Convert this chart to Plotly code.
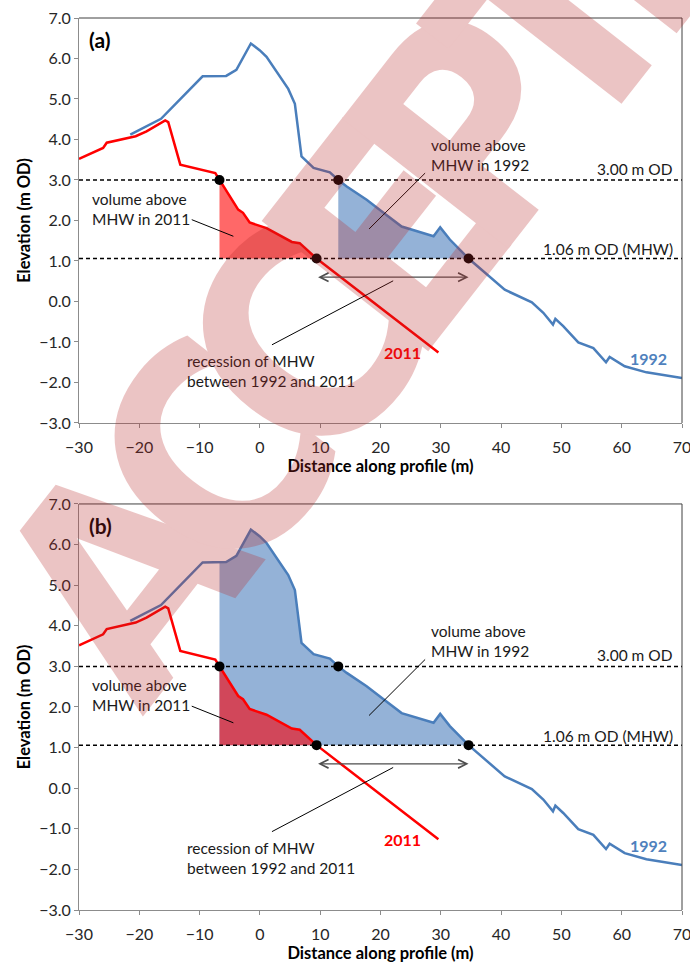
import numpy as np
import plotly.graph_objects as go

# ---------------- data ----------------
X_1992 = [-21.5, -16.4, -9.5, -5.6, -3.9, -1.5, 0.0, 1.1, 4.7, 5.8, 6.9, 8.9, 11.6, 13.0,
          14.4, 17.7, 20.5, 23.5, 28.8, 29.9, 31.5, 34.6, 40.6, 45.1, 47.0, 48.6, 49.0,
          50.3, 52.8, 55.3, 57.4, 58.0, 60.5, 64.1, 70.0]
Y_1992 = [4.12, 4.51, 5.56, 5.57, 5.72, 6.37, 6.20, 6.04, 5.25, 4.88, 3.58, 3.30, 3.19, 3.00,
          2.84, 2.51, 2.19, 1.85, 1.61, 1.83, 1.53, 1.06, 0.29, -0.02, -0.28, -0.57, -0.43,
          -0.61, -1.01, -1.15, -1.50, -1.37, -1.60, -1.75, -1.89]

X_2011 = [-30.0, -26.0, -25.4, -20.6, -18.8, -15.7, -15.2, -13.2, -7.4, -6.7, -5.4, -3.6,
          -2.8, -1.7, 1.1, 4.2, 5.3, 6.6, 9.4, 29.6]
Y_2011 = [3.52, 3.79, 3.92, 4.08, 4.20, 4.47, 4.43, 3.38, 3.17, 3.00, 2.70, 2.27,
          2.19, 1.95, 1.81, 1.57, 1.47, 1.44, 1.06, -1.26]

LEVEL_TOP = 3.00
LEVEL_MHW = 1.06
CROSS_2011_TOP = -6.7
CROSS_1992_TOP = 13.0
CROSS_2011_MHW = 9.4
CROSS_1992_MHW = 34.6
ARROW_Y = 0.6

X_RANGE = [-30, 70]
Y_RANGE = [-3, 7]
X_TICKS = list(range(-30, 71, 10))
Y_TICKS = [-3.0, -2.0, -1.0, 0.0, 1.0, 2.0, 3.0, 4.0, 5.0, 6.0, 7.0]

BLUE = "#4a7ebb"
RED = "#ff0000"
FONT = "Lato, Carlito, 'Open Sans', sans-serif"


def region(xs, ys, x0, x1, base):
    xs = np.asarray(xs, float)
    ys = np.asarray(ys, float)
    y0 = float(np.interp(x0, xs, ys))
    y1 = float(np.interp(x1, xs, ys))
    m = (xs > x0) & (xs < x1)
    px = [x0, x0] + list(xs[m]) + [x1, x1, x0]
    py = [base, y0] + list(ys[m]) + [y1, base, base]
    return px, py


fig = go.Figure()

panels = [("x", "y", "(a)"), ("x2", "y2", "(b)")]

for xa, ya, lab in panels:
    if lab == "(a)":
        rx, ry = region(X_2011, Y_2011, CROSS_2011_TOP, CROSS_2011_MHW, LEVEL_MHW)
        fig.add_trace(go.Scatter(x=rx, y=ry, fill="toself", fillcolor="#ff6868",
                                 line=dict(width=0), mode="lines", xaxis=xa, yaxis=ya,
                                 hoverinfo="skip", showlegend=False))
        bx, by = region(X_1992, Y_1992, CROSS_1992_TOP, CROSS_1992_MHW, LEVEL_MHW)
        fig.add_trace(go.Scatter(x=bx, y=by, fill="toself", fillcolor="#94b2d7",
                                 line=dict(width=0), mode="lines", xaxis=xa, yaxis=ya,
                                 hoverinfo="skip", showlegend=False))
    else:
        bx, by = region(X_1992, Y_1992, CROSS_2011_TOP, CROSS_1992_MHW, LEVEL_MHW)
        fig.add_trace(go.Scatter(x=bx, y=by, fill="toself", fillcolor="#94b2d7",
                                 line=dict(width=0), mode="lines", xaxis=xa, yaxis=ya,
                                 hoverinfo="skip", showlegend=False))
        rx, ry = region(X_2011, Y_2011, CROSS_2011_TOP, CROSS_2011_MHW, LEVEL_MHW)
        fig.add_trace(go.Scatter(x=rx, y=ry, fill="toself", fillcolor="#d1475a",
                                 line=dict(width=0), mode="lines", xaxis=xa, yaxis=ya,
                                 hoverinfo="skip", showlegend=False))

    # reference levels
    for lvl in (LEVEL_TOP, LEVEL_MHW):
        fig.add_trace(go.Scatter(x=X_RANGE, y=[lvl, lvl], mode="lines",
                                 line=dict(color="black", width=1.5, dash="4px,3px"),
                                 xaxis=xa, yaxis=ya, hoverinfo="skip", showlegend=False))

    fig.add_trace(go.Scatter(x=X_1992, y=Y_1992, mode="lines", name="1992",
                             line=dict(color=BLUE, width=2.5), xaxis=xa, yaxis=ya,
                             showlegend=False))
    fig.add_trace(go.Scatter(x=X_2011, y=Y_2011, mode="lines", name="2011",
                             line=dict(color=RED, width=2.5), xaxis=xa, yaxis=ya,
                             showlegend=False))
    fig.add_trace(go.Scatter(
        x=[CROSS_2011_TOP, CROSS_1992_TOP, CROSS_2011_MHW, CROSS_1992_MHW],
        y=[LEVEL_TOP, LEVEL_TOP, LEVEL_MHW, LEVEL_MHW],
        mode="markers", marker=dict(color="black", size=10), xaxis=xa, yaxis=ya,
        hoverinfo="skip", showlegend=False))

    # leader lines
    for (x0, y0, x1, y1) in [(-11.3, 2.02, -4.4, 1.61), (27.4, 3.17, 18.1, 1.79),
                             (2.0, -1.07, 22.1, 0.51)]:
        fig.add_shape(type="line", x0=x0, y0=y0, x1=x1, y1=y1, xref=xa, yref=ya,
                      line=dict(color="black", width=1))

    # double arrow (recession of MHW)
    fig.add_annotation(x=CROSS_1992_MHW, y=ARROW_Y, ax=CROSS_2011_MHW, ay=ARROW_Y,
                       xref=xa, yref=ya, axref=xa, ayref=ya, text="", showarrow=True,
                       arrowhead=5, startarrowhead=5, arrowside="end+start",
                       arrowsize=1.3, startarrowsize=1.3, arrowwidth=1.3, arrowcolor="#4d4d4d")

    txt = dict(color="#1a1a1a", size=15.5, family=FONT)
    fig.add_annotation(x=-28.6, y=6.46, xref=xa, yref=ya, text="<b>" + lab + "</b>",
                       showarrow=False, xanchor="left",
                       font=dict(size=21, family=FONT, color="black"))
    fig.add_annotation(x=-28.2, y=2.29, xref=xa, yref=ya, text="volume above<br>MHW in 2011",
                       showarrow=False, xanchor="left", align="left", font=txt)
    fig.add_annotation(x=28.0, y=3.62, xref=xa, yref=ya, text="volume above<br>MHW in 1992",
                       showarrow=False, xanchor="left", align="left", font=txt)
    fig.add_annotation(x=68.9, y=3.28, xref=xa, yref=ya, text="3.00 m OD",
                       showarrow=False, xanchor="right", font=txt)
    fig.add_annotation(x=68.9, y=1.29, xref=xa, yref=ya, text="1.06 m OD (MHW)",
                       showarrow=False, xanchor="right", font=txt)
    fig.add_annotation(x=-12.5, y=-1.71, xref=xa, yref=ya,
                       text="recession of MHW<br>between 1992 and 2011",
                       showarrow=False, xanchor="left", align="left", font=txt)
    fig.add_annotation(x=23.7, y=-1.27, xref=xa, yref=ya, text="<b>2011</b>",
                       showarrow=False, font=dict(color=RED, size=16, family=FONT))
    fig.add_annotation(x=64.4, y=-1.40, xref=xa, yref=ya, text="<b>1992</b>",
                       showarrow=False, font=dict(color="#4f81bd", size=16, family=FONT))

    # top and right frame of plot area
    fig.add_shape(type="line", xref=xa + " domain", yref=ya + " domain", x0=0, x1=1, y0=1, y1=1,
                  line=dict(color="#404040", width=1))
    fig.add_shape(type="line", xref=xa + " domain", yref=ya + " domain", x0=1, x1=1, y0=0, y1=1,
                  line=dict(color="#404040", width=1))

axis_common = dict(showgrid=False, zeroline=False, showline=True, linecolor="#8c8c8c",
                   linewidth=1, ticks="outside", ticklen=4, tickcolor="#8c8c8c",
                   tickfont=dict(family=FONT, size=16, color="#262626"), automargin=False,
                   ticklabeloverflow="allow")

xt = dict(text="<b>Distance along profile (m)</b>", font=dict(family=FONT, size=16.5, color="black"),
          standoff=5)
yt = dict(text="<b>Elevation (m OD)</b>", font=dict(family=FONT, size=16.5, color="black"),
          standoff=4)

fig.update_layout(
    width=690, height=964,
    margin=dict(l=79, r=8, t=18, b=54),
    paper_bgcolor="white", plot_bgcolor="white",
    showlegend=False,
    xaxis=dict(domain=[0, 1], range=X_RANGE, tickvals=X_TICKS, anchor="y", title=xt,
               ticklabelstandoff=6, **axis_common),
    yaxis=dict(domain=[0.546, 1], range=Y_RANGE, tickvals=Y_TICKS, tickformat=".1f", anchor="x",
               title=yt, **axis_common),
    xaxis2=dict(domain=[0, 1], range=X_RANGE, tickvals=X_TICKS, anchor="y2", title=xt,
                ticklabelstandoff=6, **axis_common),
    yaxis2=dict(domain=[0, 0.4552], range=Y_RANGE, tickvals=Y_TICKS, tickformat=".1f", anchor="x2",
                title=yt, **axis_common),
)

# diagonal watermark of the source page (group opacity, so overlapping glyphs don't darken)
fig.add_annotation(x=0.575, y=0.805, xref="paper", yref="paper",
                   text="<span style='font-stretch:condensed;letter-spacing:-48px'><b>ACCEPTED</b></span>",
                   showarrow=False, textangle=-52, xanchor="center", yanchor="middle",
                   opacity=0.27,
                   font=dict(family="'DejaVu Sans Condensed', 'Liberation Sans Narrow', 'DejaVu Sans'",
                             size=290, color="rgb(185,40,40)"))

fig.write_html("out.html", config={"displayModeBar": False},
               post_script="document.body.style.margin='0';document.body.style.overflow='hidden';")
